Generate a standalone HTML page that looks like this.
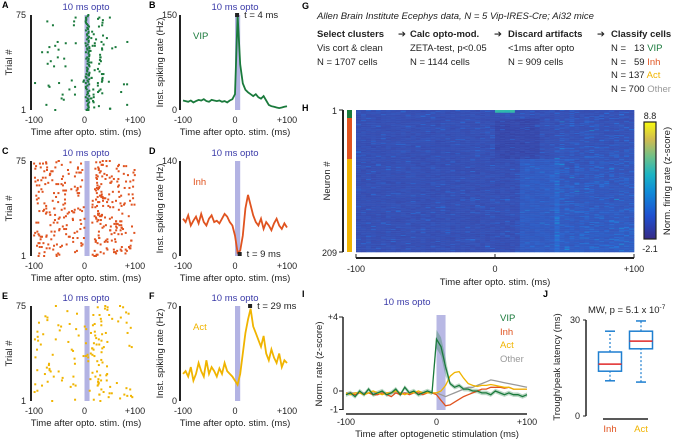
<!DOCTYPE html>
<html><head><meta charset="utf-8"><style>
body{margin:0;background:#fff}
svg{display:block;font-family:"Liberation Sans",sans-serif;fill:#222}
text{font-family:"Liberation Sans",sans-serif}
.t{font-size:9.5px}
.tk{font-size:9px}
.pl{font-size:9px;font-weight:bold}
.op{font-size:9.5px}
</style></head><body>
<svg id="fig" width="678" height="441" viewBox="0 0 678 441" xmlns="http://www.w3.org/2000/svg">
<g fill="#000">
<text class="pl" x="2" y="8">A</text><text class="pl" x="149" y="8">B</text>
<text class="pl" x="2" y="154">C</text><text class="pl" x="149" y="154">D</text>
<text class="pl" x="2" y="299">E</text><text class="pl" x="149" y="299">F</text>
<text class="pl" x="302" y="9">G</text><text class="pl" x="302" y="111">H</text>
<text class="pl" x="302" y="297">I</text><text class="pl" x="543" y="297">J</text>
</g>
<g class="t">
<text x="317" y="19" font-style="italic" font-size="9.5">Allen Brain Institute Ecephys data, N = 5 Vip-IRES-Cre; Ai32 mice</text>
<text x="317" y="37" font-weight="bold">Select clusters</text>
<text x="398" y="37">➔</text>
<text x="410" y="37" font-weight="bold">Calc opto-mod.</text>
<text x="494" y="37">➔</text>
<text x="508" y="37" font-weight="bold">Discard artifacts</text>
<text x="597" y="37">➔</text>
<text x="611" y="37" font-weight="bold">Classify cells</text>
<text x="317" y="51">Vis cort &amp; clean</text><text x="317" y="65">N = 1707 cells</text>
<text x="410" y="51">ZETA-test, p&lt;0.05</text><text x="410" y="65">N = 1144 cells</text>
<text x="508" y="51">&lt;1ms after opto</text><text x="508" y="65">N = 909 cells</text>
<text x="611" y="51" xml:space="preserve">N =   13 <tspan fill="#1a7a3c">VIP</tspan></text>
<text x="611" y="65" xml:space="preserve">N =   59 <tspan fill="#e0531f">Inh</tspan></text>
<text x="611" y="78">N = 137 <tspan fill="#f0b400">Act</tspan></text>
<text x="611" y="92">N = 700 <tspan fill="#999">Other</tspan></text>
</g>
<g id="marks"></g>
</svg>
<script>
// ---------- data ----------
const tBins = [-100,-95,-90,-85,-80,-75,-70,-65,-60,-55,-50,-45,-40,-35,-30,-25,-20,-15,-10,-5,0,5,10,15,20,25,30,35,40,45,50,55,60,65,70,75,80,85,90,95,100];
const vipRate = [15,14,13,15,12,14,16,15,17,14,13,16,15,14,15,13,14,12,15,17,25,150,72,42,32,28,25,22,25,20,18,22,15,8,6,5,4,3,4,5,6];
const inhRate = [55,50,60,45,52,58,48,62,50,45,55,60,50,52,48,55,62,58,50,45,30,5,8,30,70,90,75,60,50,45,55,40,50,45,38,48,55,45,40,48,42];
const actRate = [20,22,18,25,15,20,28,22,18,30,20,25,22,18,24,20,28,22,20,18,15,12,20,35,50,60,68,55,50,45,40,48,35,30,38,32,28,35,25,30,28];
const zVip   = [-0.2,-0.1,-0.3,0,-0.2,0.1,-0.2,-0.1,0,-0.2,-0.1,0.1,-0.2,0.2,-0.1,0,-0.2,-0.1,0,-0.1,2.8,2.4,1.3,0.4,0.2,0.3,0.1,0.1,0,0,-0.1,-0.1,-0.2,0,-0.1,-0.2,-0.1,-0.2,-0.2,-0.3,-0.2];
const zInh   = [-0.2,-0.1,-0.2,-0.1,-0.2,-0.1,-0.2,-0.2,-0.1,-0.2,-0.3,-0.1,-0.2,-0.1,-0.2,-0.1,-0.1,-0.2,-0.1,-0.1,-0.2,-0.5,-0.8,-0.75,-0.6,-0.45,-0.3,-0.2,-0.1,0,0.1,0.1,0.2,0.2,0.2,0.15,0.2,0.1,0.1,0.1,0.1];
const zAct   = [-0.1,-0.2,-0.1,-0.1,-0.2,-0.1,0,-0.1,-0.2,-0.1,-0.1,0,-0.1,-0.2,-0.1,-0.1,0,-0.1,-0.1,-0.1,-0.1,0,0.3,0.8,1.0,1.05,0.7,0.4,0.3,0.25,0.3,0.3,0.35,0.3,0.25,0.2,0.2,0.1,0.1,0.1,0.1];
const zOther = [-0.1,-0.1,-0.1,-0.1,-0.1,-0.1,-0.1,-0.1,-0.1,-0.1,-0.1,-0.1,-0.1,-0.1,-0.1,-0.1,-0.1,-0.1,-0.1,-0.1,-0.1,-0.2,-0.3,-0.2,-0.1,0,0.1,0.2,0.2,0.3,0.4,0.5,0.6,0.55,0.5,0.45,0.4,0.35,0.3,0.25,0.2];
const boxInh = [11,14,16.2,20,26.5];
const boxAct = [10.6,21,23.4,26.5,29.7];
const xTickLabels = ['-100','0','+100'];
const xTickVals = [-100,0,100];

const NS='http://www.w3.org/2000/svg';
const root=document.getElementById('marks');
function mk(tag,a,parent){const e=document.createElementNS(NS,tag);for(const k in a)e.setAttribute(k,a[k]);(parent||root).appendChild(e);return e;}
function txt(x,y,s,a,name){const e=mk('text',Object.assign({x:x,y:y},a));e.textContent=s;


return e;}
function ln(x1,y1,x2,y2,col,w,name){const e=mk('line',{x1:x1,y1:y1,x2:x2,y2:y2,stroke:col,'stroke-width':w});


return e;}
let seed=7;function rnd(){seed=(seed*16807)%2147483647;return seed/2147483647;}
const OP='#3a3aa8';

// ---------- raster + rate panels ----------
const panels=[
 {dy:0,col:'#1a7a3c',rate:vipRate,ymax:150,lab:'VIP',pk:4,pkLab:'t = 4 ms',pkTop:true,kind:'vip'},
 {dy:146,col:'#e0531f',rate:inhRate,ymax:140,lab:'Inh',pk:9,pkLab:'t = 9 ms',pkTop:false,kind:'inh'},
 {dy:291,col:'#f0b400',rate:actRate,ymax:70,lab:'Act',pk:29,pkLab:'t = 29 ms',pkTop:true,kind:'act'}
];
panels.forEach(p=>{
 const top=15+p.dy,bot=110+p.dy;
 const sxA=t=>34+(t+100)/200*101, sxB=t=>183+(t+100)/200*104;
 const syA=tr=>bot-(tr-1)/74*(bot-top), syB=v=>bot-v/p.ymax*(bot-top);
 txt(86,top-5,'10 ms opto',{class:'op','text-anchor':'middle',fill:OP},'raster-title');
 const band=mk('rect',{x:sxA(0),y:top,width:sxA(10)-sxA(0),height:bot-top,fill:'#b3b3e3'});
 
 
 ln(31,top,31,bot,'#222',2,'raster-y-axis');
 txt(26,top+3,'75',{class:'tk','text-anchor':'end'},'y-tick-label');
 txt(26,bot+3,'1',{class:'tk','text-anchor':'end'},'y-tick-label');
 txt(12,(top+bot)/2,'Trial #',{class:'t','text-anchor':'middle',transform:'rotate(-90 12 '+((top+bot)/2)+')'},'y-axis-title');
 xTickVals.forEach((v,i)=>{txt(sxA(v),bot+13,xTickLabels[i],{class:'tk','text-anchor':'middle'},'x-tick-label');});
 txt(86,bot+25,'Time after opto. stim. (ms)',{class:'t','text-anchor':'middle'},'x-axis-title');
 for(let tr=1;tr<=75;tr++){
  const spikes=[];
  const n = p.kind==='inh'?5:(p.kind==='vip'?(rnd()<0.5?2:0):(rnd()<0.6?2:1));
  for(let k=0;k<n;k++){let t=-100+rnd()*200; if(p.kind==='inh'&&t>0&&t<15) t+=20; if(p.kind==='vip'&&t>60&&rnd()<0.6) t-=80; spikes.push(t);}
  if(p.kind==='vip'){spikes.push(2+rnd()*8); if(rnd()<0.5)spikes.push(8+rnd()*30);}
  if(p.kind==='act'&&rnd()<0.4){spikes.push(15+rnd()*30);}
  spikes.forEach(t=>{if(t>100)return;const d=mk('rect',{x:sxA(t)-1,y:syA(tr)-1,width:2,height:2,fill:p.col});
   
   });
 }
 txt(235,top-5,'10 ms opto',{class:'op','text-anchor':'middle',fill:OP},'rate-title');
 const b2=mk('rect',{x:sxB(0),y:top,width:sxB(10)-sxB(0),height:bot-top,fill:'#b3b3e3'});
 
 
 ln(180,top,180,bot,'#222',2,'rate-y-axis');
 txt(177,top+3,String(p.ymax),{class:'tk','text-anchor':'end'},'y-tick-label');
 txt(177,bot+3,'0',{class:'tk','text-anchor':'end'},'y-tick-label');
 txt(163,(top+bot)/2,'Inst. spiking rate (Hz)',{class:'t','text-anchor':'middle',transform:'rotate(-90 163 '+((top+bot)/2)+')'},'y-axis-title');
 xTickVals.forEach((v,i)=>{txt(sxB(v),bot+13,xTickLabels[i],{class:'tk','text-anchor':'middle'},'x-tick-label');});
 txt(235,bot+25,'Time after opto. stim. (ms)',{class:'t','text-anchor':'middle'},'x-axis-title');
 const pts=tBins.map((t,i)=>sxB(t).toFixed(1)+','+syB(p.rate[i]).toFixed(1)).join(' ');
 const pl=mk('polyline',{points:pts,fill:'none',stroke:p.col,'stroke-width':1.8});
 
 
 txt(193,top+24,p.lab,{class:'t',fill:p.col},'cell-type-label');
 const my=p.pkTop?top:bot-2;
 const m=mk('rect',{x:sxB(p.pk)-2,y:my-2,width:4,height:4,fill:'#222'});
 
 
 txt(sxB(p.pk)+7,my+3,p.pkLab,{class:'t'},'peak-label');
});

// ---------- heatmap H ----------
const hx0=356,hx1=634,hy0=110,hy1=252,nRows=209,nCols=56;
const sxH=t=>hx0+(t+100)/200*(hx1-hx0);
function parula(v){const s=Math.max(0,Math.min(1,(v+2.1)/10.9));
 const st=[[0,[53,42,135]],[0.14,[55,80,180]],[0.25,[40,110,215]],[0.38,[20,160,210]],[0.5,[40,185,180]],[0.65,[130,195,100]],[0.8,[220,190,60]],[1,[249,251,14]]];
 for(let i=1;i<st.length;i++){if(s<=st[i][0]){const a=st[i-1],b=st[i],f=(s-a[0])/(b[0]-a[0]);return 'rgb('+a[1].map((c,j)=>Math.round(c+(b[1][j]-c)*f)).join(',')+')';}}return 'rgb(249,251,14)';}
const hm=mk('g',{});


const rh=(hy1-hy0)/nRows, cw=(hx1-hx0)/nCols;
for(let r=0;r<nRows;r++){for(let c=0;c<nCols;c++){
 const t=-100+c*200/nCols;
 let v=-0.55+(rnd()-0.5)*0.5;
 if(rnd()<0.03)v+=1.0;
 if(r>=13&&r<72&&t>=0&&t<30)v-=0.3;
 if(r>=72&&t>15&&t<45)v+=0.45;
 if(t>40)v+=0.5*(r/209)+(rnd()<0.12?0.9:0);
 if(r<4&&t>=0&&t<12)v+=4;
 const e=mk('rect',{x:(hx0+c*cw).toFixed(2),y:(hy0+r*rh).toFixed(2),width:(cw+0.3).toFixed(2),height:(rh+0.3).toFixed(2),fill:parula(v)},hm);
 
 
}}
[[110,118,'#1a7a3c'],[118,159,'#e0531f'],[159,252,'#f0b400']].forEach(s=>{
 const e=mk('rect',{x:347,y:s[0],width:5,height:s[1]-s[0],fill:s[2]});
 
 });
ln(343,110,343,252,'#222',2,'heatmap-y-axis');
ln(339,110,343,110,'#222',1,'y-tick');ln(339,252,343,252,'#222',1,'y-tick');
txt(337,114,'1',{class:'tk','text-anchor':'end'},'y-tick-label');
txt(337,256,'209',{class:'tk','text-anchor':'end'},'y-tick-label');
txt(330,181,'Neuron #',{class:'t','text-anchor':'middle',transform:'rotate(-90 330 181)'},'y-axis-title');
ln(356,258,634,258,'#222',2,'heatmap-x-axis');
xTickVals.forEach((v,i)=>{ln(sxH(v),254,sxH(v),258,'#222',1,'x-tick');txt(sxH(v),272,xTickLabels[i],{class:'tk','text-anchor':'middle'},'x-tick-label');});
txt(495,285,'Time after opto. stim. (ms)',{class:'t','text-anchor':'middle'},'x-axis-title');
const defs=mk('defs',{});
const lg=mk('linearGradient',{id:'cb',x1:0,y1:1,x2:0,y2:0},defs);
[[0,'#352a87'],[0.2,'#1e50d0'],[0.4,'#0f8ad8'],[0.55,'#1ab4c4'],[0.7,'#6cc08a'],[0.85,'#d0bb50'],[1,'#f9fb0e']].forEach(s=>mk('stop',{offset:s[0],'stop-color':s[1]},lg));
const cb=mk('rect',{x:644,y:122,width:12,height:117,fill:'url(#cb)',stroke:'#222','stroke-width':1.2});


txt(650,119,'8.8',{class:'tk','text-anchor':'middle'},'colorbar-max');
txt(650,252,'-2.1',{class:'tk','text-anchor':'middle'},'colorbar-min');
txt(670,181,'Norm. firing rate (z-score)',{class:'t','text-anchor':'middle',transform:'rotate(-90 670 181)'},'colorbar-title');

// ---------- panel I ----------
const sxI=t=>346+(t+100)/200*181, syI=v=>391-v*18.5;
txt(407,305,'10 ms opto',{class:'op','text-anchor':'middle',fill:OP},'panel-i-title');
const bi=mk('rect',{x:sxI(0),y:315,width:sxI(10)-sxI(0),height:95,fill:'#b8b8e4'});


ln(343,317,343,410,'#222',1.5,'i-y-axis');
[[4,'+4'],[0,'0'],[-1,'-1']].forEach(k=>{ln(339,syI(k[0]),343,syI(k[0]),'#222',1,'y-tick');txt(338,syI(k[0])+3,k[1],{class:'tk','text-anchor':'end'},'y-tick-label');});
ln(346,414,527,414,'#222',1.5,'i-x-axis');
xTickVals.forEach((v,i)=>{txt(sxI(v),425,xTickLabels[i],{class:'tk','text-anchor':'middle'},'x-tick-label');});
txt(437,437,'Time after optogenetic stimulation (ms)',{class:'t','text-anchor':'middle'},'x-axis-title');
txt(322,364,'Norm. rate (z-score)',{class:'t','text-anchor':'middle',transform:'rotate(-90 322 364)'},'y-axis-title');
const vipBand=tBins.map((t,i)=>sxI(t).toFixed(1)+','+syI(zVip[i]+(t>=0&&t<15?0.5:0.12)).toFixed(1)).concat(tBins.slice().reverse().map((t,j)=>{const i=tBins.length-1-j;return sxI(t).toFixed(1)+','+syI(zVip[i]-(t>=0&&t<15?0.5:0.12)).toFixed(1);})).join(' ');
const vb=mk('polygon',{points:vipBand,fill:'#1a7a3c',opacity:0.3});


[[zOther,'#999','other'],[zInh,'#e0531f','inh'],[zAct,'#f0b400','act'],[zVip,'#1a7a3c','vip']].forEach(s=>{
 const pts=tBins.map((t,i)=>sxI(t).toFixed(1)+','+syI(s[0][i]).toFixed(1)).join(' ');
 const e=mk('polyline',{points:pts,fill:'none',stroke:s[1],'stroke-width':1.3});
 
 
});
txt(500,321,'VIP',{class:'t',fill:'#1a7a3c'},'legend-entry');
txt(500,335,'Inh',{class:'t',fill:'#e0531f'},'legend-entry');
txt(500,348,'Act',{class:'t',fill:'#f0b400'},'legend-entry');
txt(500,362,'Other',{class:'t',fill:'#999'},'legend-entry');

// ---------- panel J ----------
const syJ=v=>416-v/30*96;
txt(588,313,'MW, p = 5.1 x 10',{class:'t'},'stats-label').innerHTML+='<tspan dy="-4" font-size="6.5">-7</tspan>';
ln(586,320,586,416,'#222',1.5,'j-y-axis');
[[30,'30'],[0,'0']].forEach(k=>{ln(583,syJ(k[0]),586,syJ(k[0]),'#222',1,'y-tick');txt(580,syJ(k[0])+3,k[1],{class:'tk','text-anchor':'end'},'y-tick-label');});
txt(560,367,'Trough/peak latency (ms)',{class:'t','text-anchor':'middle',transform:'rotate(-90 560 367)'},'y-axis-title');
ln(603,419,648,419,'#222',1.5,'j-x-axis');
txt(610,432,'Inh',{class:'t',fill:'#e0531f','text-anchor':'middle'},'x-category-label');
txt(641,432,'Act',{class:'t',fill:'#f0b400','text-anchor':'middle'},'x-category-label');
[[boxInh,610],[boxAct,641]].forEach(b=>{
 const d=b[0],cx=b[1],w=23;
 ln(cx,syJ(d[0]),cx,syJ(d[1]),'#1e7fd0',1.2,'whisker').setAttribute('stroke-dasharray','2,2');
 ln(cx,syJ(d[3]),cx,syJ(d[4]),'#1e7fd0',1.2,'whisker').setAttribute('stroke-dasharray','2,2');
 ln(cx-5,syJ(d[0]),cx+5,syJ(d[0]),'#1e7fd0',1.5,'whisker-cap');
 ln(cx-5,syJ(d[4]),cx+5,syJ(d[4]),'#1e7fd0',1.5,'whisker-cap');
 const r=mk('rect',{x:cx-w/2,y:syJ(d[3]),width:w,height:syJ(d[1])-syJ(d[3]),fill:'none',stroke:'#1e7fd0','stroke-width':1.5});
 
 
 ln(cx-w/2,syJ(d[2]),cx+w/2,syJ(d[2]),'#e02828',1.5,'median-line');
});
</script>
</body></html>
